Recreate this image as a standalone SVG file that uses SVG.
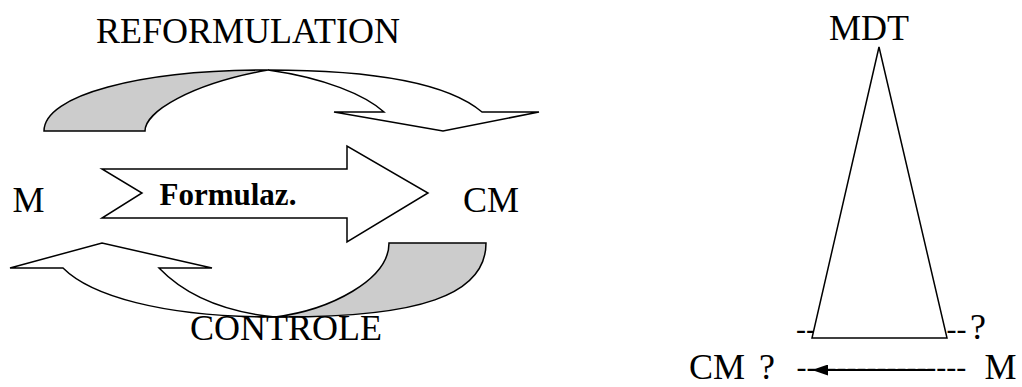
<svg xmlns="http://www.w3.org/2000/svg" width="1022" height="387" viewBox="0 0 1022 387">
<style>
.t{font-family:"Liberation Serif","Times New Roman",serif;font-size:36px;fill:#000}
.d{font-family:"Liberation Serif","Times New Roman",serif;font-size:30px;fill:#000}
.b{font-family:"Liberation Serif","Times New Roman",serif;font-size:31px;font-weight:bold;fill:#000}
.s{stroke:#000;stroke-width:1.5;stroke-linejoin:miter}
.g{fill:#cccccc}
.w{fill:#ffffff}
</style>
<defs>
<marker id="ah" viewBox="0 0 16 11" refX="0" refY="5.5" markerWidth="16" markerHeight="11" markerUnits="userSpaceOnUse" orient="auto"><path d="M0,0 L16,5.5 L0,11 Z" fill="#000"/></marker>
</defs>
<rect width="1022" height="387" fill="#fff"/>
<g id="reformulation">
<path class="s g" d="M44,131 C44,95 140,70 268,70 C190,84 145,112 145,131 Z"/>
<path class="s w" d="M268,70 C380,70 450,85 482,112 L539,112 L443,131 L334,112 L384,112 C365,95 325,78 268,70 Z"/>
<text class="t" x="96" y="43">REFORMULATION</text>
</g>
<g id="formulaz">
<path class="s w" d="M102,169 L347,169 L347,146 L428,193 L347,242 L347,218 L102,218 L142,193 Z"/>
<text class="b" x="159.5" y="205">Formulaz.</text>
</g>
<g id="controle">
<path class="s g" d="M275,317 C420,318 486,295 486,243 L389,243 C389,280 330,310 275,317 Z"/>
<path class="s w" d="M275,317 C160,317 90,295 63,268 L10,268 L102,243 L212,268 L159,268 C185,295 225,312 275,317 Z"/>
<text class="t" x="190" y="340">CONTROLE</text>
</g>
<g id="m"><text class="t" x="12.5" y="212">M</text></g>
<g id="cm"><text class="t" x="463" y="212">CM</text></g>
<g id="mdt">
<text class="t" x="829" y="40">MDT</text>
<text class="d" x="796" y="339">--</text>
<path class="s w" d="M879,47 L947,338 L812,338 Z"/>
<text class="d" x="946.5" y="339">--</text>
<text class="t" x="970" y="339">?</text>
</g>
<g id="bottom-row">
<text class="t" x="689" y="379">CM</text>
<text class="t" x="759" y="379">?</text>
<text class="d" x="796.5" y="377">-----------------</text>
<text class="t" x="984.5" y="379">M</text>
</g>
<g id="connectors">
<line x1="928" y1="370" x2="828" y2="370" stroke="#000" stroke-width="2" marker-end="url(#ah)"/>
</g>
</svg>
